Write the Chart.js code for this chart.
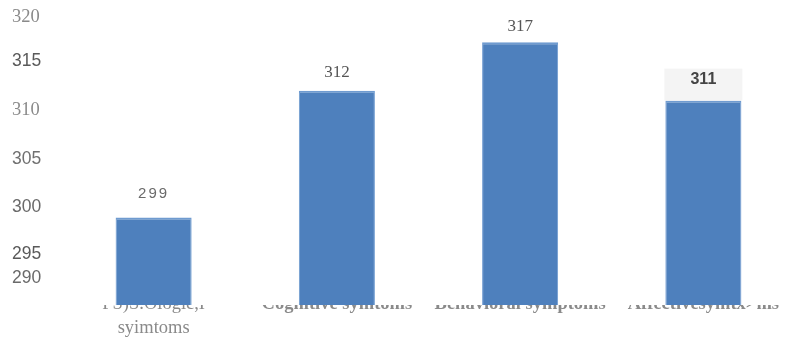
<!DOCTYPE html>
<html>
<head>
<meta charset="utf-8">
<script src="https://cdn.jsdelivr.net/npm/chart.js@4.4.1/dist/chart.umd.min.js"></script>
<style>
  html, body { margin: 0; padding: 0; background: #fff; overflow: hidden; }
  #wrap { width: 796px; height: 337px; position: relative; }
</style>
</head>
<body>
<div id="wrap"><canvas id="grafico"></canvas></div>
<script>
// categories and values
const categories = [['PS)S.Ologic,I', 'syimtoms'], 'Cognitive symtoms', 'Behavioral symptoms', 'Affectivesymtx>ms'];
const values = [299, 312, 317, 311];

// y axis tick labels and where each one sits on the value scale
const yTickLabels = ['290', '295', '300', '305', '310', '315', '320'];
const yTickAt = [292.8, 295.2, 300, 305, 310, 315, 319.6];

// look of the value labels above the bars
const valueFonts = ['15px "Liberation Sans"', '17px "Liberation Serif"', '17px "Liberation Serif"', 'bold 16px "Liberation Sans"'];
const valueColors = ['#6a6a6a', '#555', '#555', '#444'];
const valueGap = [24, 18, 16, 21];
const valueSpacing = ['2px', '0px', '0px', '0px'];

const valueLabels = {
    id: 'valueLabels',
    afterDatasetsDraw(chart) {
        const ctx = chart.ctx;
        const meta = chart.getDatasetMeta(0);
        meta.data.forEach(function(bar, i) {
            ctx.save();
            if (i == 3) {
                // light box behind the last label
                const w = bar.width + 2;
                ctx.fillStyle = '#f4f4f4';
                ctx.fillRect(bar.x - w / 2, bar.y - 32, w, 32);
            }
            ctx.font = valueFonts[i];
            ctx.fillStyle = valueColors[i];
            ctx.letterSpacing = valueSpacing[i];
            ctx.textAlign = 'center';
            ctx.textBaseline = 'middle';
            ctx.fillText(String(chart.data.datasets[0].data[i]), bar.x, bar.y - valueGap[i]);
            ctx.restore();
        });
    }
};

const chart = new Chart(document.getElementById('grafico'), {
    type: 'bar',
    data: {
        labels: categories,
        datasets: [{
            data: values,
            backgroundColor: '#4e80bd',
            borderColor: '#6f9bd0',
            borderWidth: { left: 1, right: 1, top: 2, bottom: 0 },
            categoryPercentage: 1,
            barPercentage: 0.415
        }]
    },
    options: {
        responsive: true,
        maintainAspectRatio: false,
        animation: false,
        layout: { padding: { left: 12, right: 1, top: 13, bottom: 0 } },
        plugins: {
            legend: { display: false },
            tooltip: { enabled: false }
        },
        scales: {
            x: {
                z: 1,   // labels sit over the bar bottoms
                grid: { display: false, drawTicks: false },
                border: { display: false },
                afterFit: function(scale) { scale.height = 32; },
                ticks: {
                    padding: -13,
                    maxRotation: 0,
                    autoSkip: false,
                    color: '#8a8a8a',
                    font: function(c) {
                        if (c.index == 0) return { family: 'Liberation Serif', size: 18.5, lineHeight: 1.3 };
                        return { family: 'Liberation Serif', size: 18.5, weight: 'bold', lineHeight: 1.3 };
                    }
                }
            },
            y: {
                min: 290,
                max: 320,
                grid: { display: false, drawTicks: false },
                border: { display: false },
                afterFit: function(scale) { scale.width = 50; },
                afterBuildTicks: function(scale) {
                    scale.ticks = yTickAt.map(function(v) { return { value: v }; });
                },
                ticks: {
                    crossAlign: 'far',
                    padding: 0,
                    callback: function(value, index) { return yTickLabels[index]; },
                    color: function(c) {
                        return ['#6a6a6a', '#5a5a5a', '#6a6a6a', '#707070', '#8a8a8a', '#5a5a5a', '#8a8a8a'][c.index];
                    },
                    font: function(c) {
                        const serif = c.index == 4 || c.index == 6;
                        return { family: serif ? 'Liberation Serif' : 'Liberation Sans', size: serif ? 18.5 : 17.5 };
                    }
                }
            }
        }
    },
    plugins: [valueLabels]
});
</script>
</body>
</html>
